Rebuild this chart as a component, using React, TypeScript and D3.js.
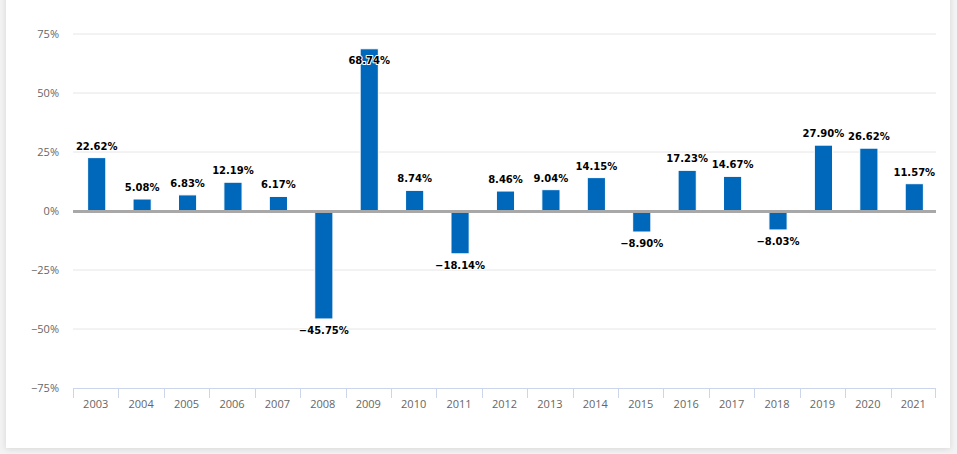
import React from 'react';
import * as d3 from 'd3';

const years = ['2003', '2004', '2005', '2006', '2007', '2008', '2009', '2010', '2011', '2012',
  '2013', '2014', '2015', '2016', '2017', '2018', '2019', '2020', '2021'];
const returns = [22.62, 5.08, 6.83, 12.19, 6.17, -45.75, 68.74, 8.74, -18.14, 8.46,
  9.04, 14.15, -8.9, 17.23, 14.67, -8.03, 27.9, 26.62, 11.57];
const yTicks = [-75, -50, -25, 0, 25, 50, 75];

const W = 957;
const H = 454;
const left = 73;
const right = 936;
const top = 34;
const bottom = 388;

export default function App() {
  const x = d3.scaleBand().domain(years).range([left, right]).paddingInner(0).paddingOuter(0);
  const y = d3.scaleLinear().domain([-75, 75]).range([bottom, top]);
  const bw = x.bandwidth() * 0.4;
  const y0 = y(0);

  return (
    <svg width={W} height={H} style={{ position: 'absolute', left: 0, top: 0 }}>
      <defs>
        <filter id="shadow" x="-5%" y="-5%" width="110%" height="110%">
          <feDropShadow dx="0" dy="1" stdDeviation="3" floodColor="#000" floodOpacity="0.12" />
        </filter>
      </defs>
      <rect x={0} y={0} width={W} height={H} fill="#f3f3f3" />
      <rect x={6} y={-6} width={944} height={454} fill="#fff" filter="url(#shadow)" />

      {/* grid + y labels */}
      {yTicks.map(t => (
        <g key={t}>
          {t !== 0 && t !== -75 && (
            <line x1={left} x2={right} y1={y(t)} y2={y(t)} stroke="#e6e6e6" strokeWidth={1} />
          )}
          <text x={59} y={y(t) + 4} textAnchor="end" fontFamily="'Open Sans', sans-serif"
            fontSize={11} fill="#666">{(t < 0 ? '−' + Math.abs(t) : t) + '%'}</text>
        </g>
      ))}

      {/* x axis */}
      <line x1={left} x2={right} y1={bottom + 0.5} y2={bottom + 0.5} stroke="#ccd6eb" />
      {years.map(yr => (
        <g key={yr}>
          <line x1={Math.round(x(yr)!) + 0.5} x2={Math.round(x(yr)!) + 0.5} y1={bottom} y2={bottom + 10} stroke="#ccd6eb" />
          <text x={x(yr)! + x.bandwidth() / 2} y={bottom + 20} textAnchor="middle"
            fontFamily="'Open Sans', sans-serif" fontSize={11} fill="#666">{yr}</text>
        </g>
      ))}
      <line x1={right - 0.5} x2={right - 0.5} y1={bottom} y2={bottom + 10} stroke="#ccd6eb" />

      {/* bars */}
      {years.map((yr, i) => {
        const v = returns[i];
        const cx = x(yr)! + x.bandwidth() / 2 + 1;
        return (
          <rect key={yr} x={cx - bw / 2} y={Math.min(y(v), y0)} width={bw}
            height={Math.abs(y(v) - y0)} fill="#0068bb" stroke="#fff" strokeWidth={1} />
        );
      })}

      {/* zero line */}
      <line x1={left} x2={right} y1={y0 + 0.5} y2={y0 + 0.5} stroke="#a8a8a8" strokeWidth={3} />

      {/* data labels */}
      {years.map((yr, i) => {
        const v = returns[i];
        const cx = x(yr)! + x.bandwidth() / 2 + 1;
        let ly: number;
        if (v >= 0) {
          ly = y(v) - 8;
          if (ly - 10 < top) ly = y(v) + 15;
        } else {
          ly = y(v) + 15;
        }
        const txt = (v < 0 ? '−' + Math.abs(v).toFixed(2) : v.toFixed(2)) + '%';
        return (
          <text key={yr} x={cx} y={ly} textAnchor="middle" fontFamily="'DejaVu Sans', sans-serif"
            fontWeight="bold" fontSize={10} fill="#000" stroke="#fff" strokeWidth={2}
            strokeLinejoin="round" style={{ paintOrder: 'stroke' }}>{txt}</text>
        );
      })}
    </svg>
  );
}
